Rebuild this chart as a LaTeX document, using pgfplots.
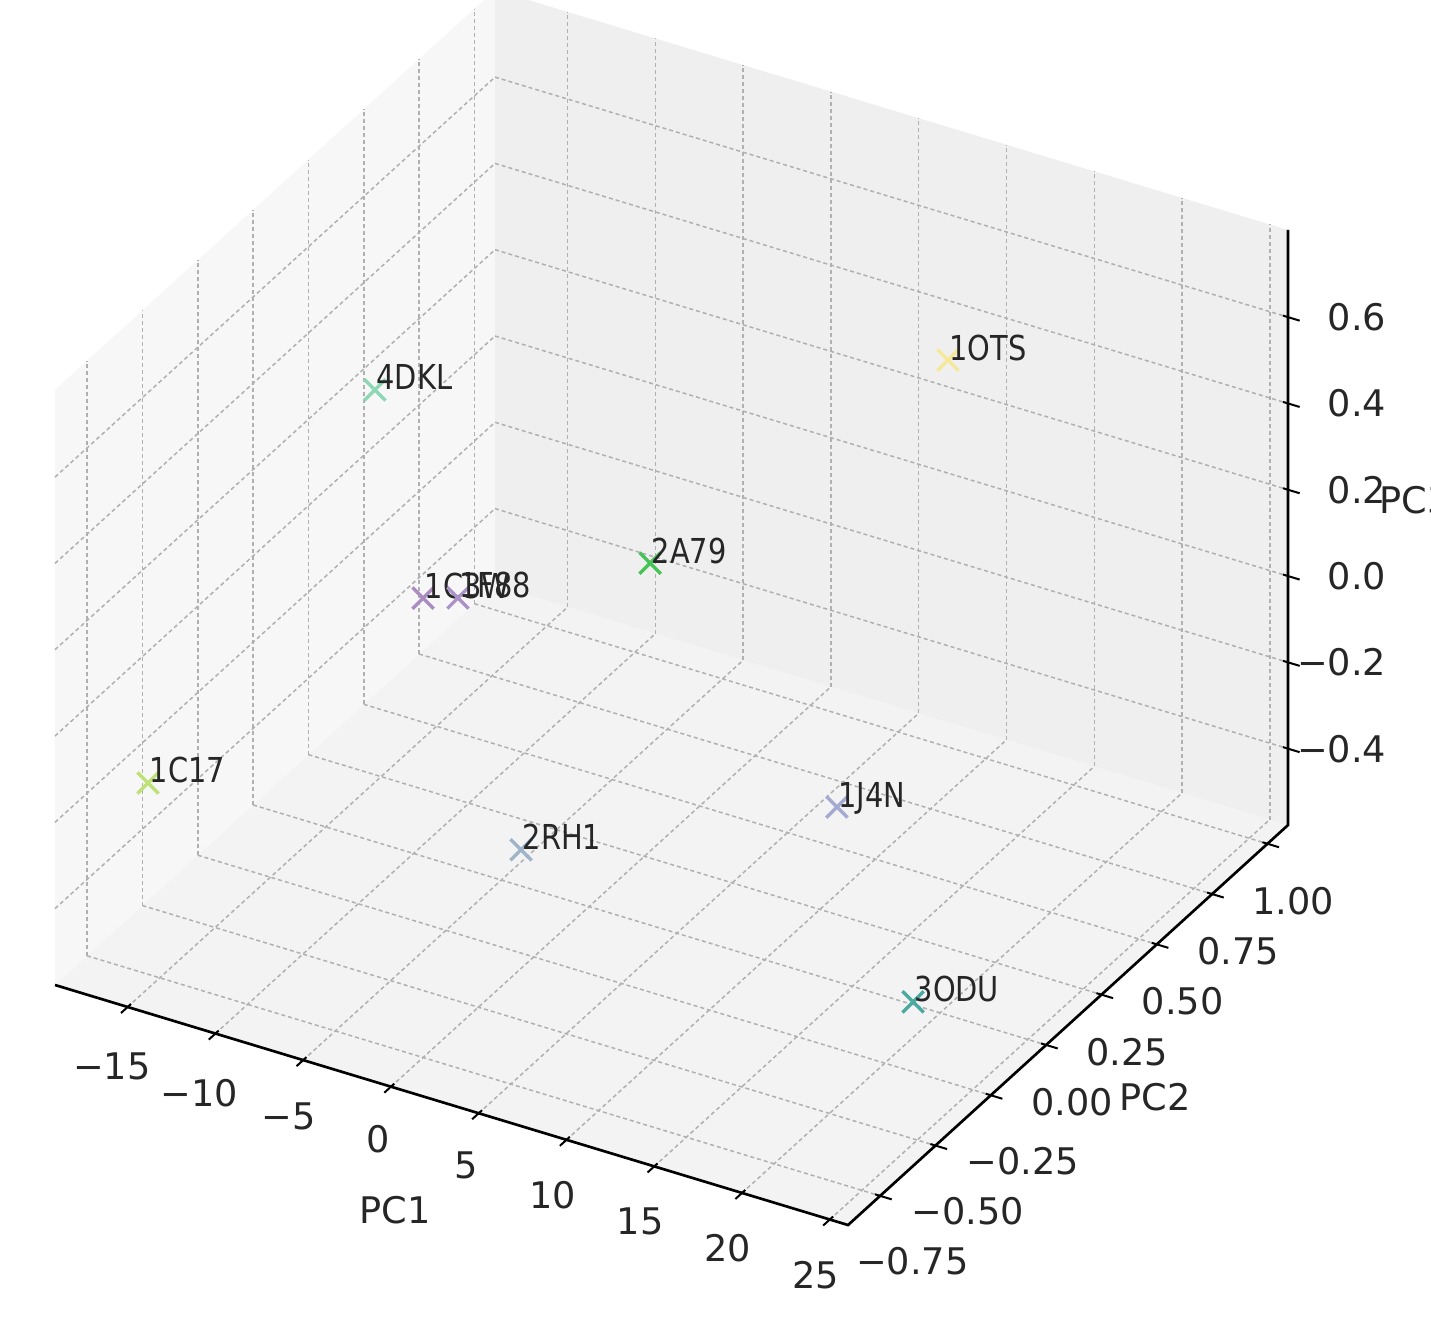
\documentclass[border=0pt]{standalone}
\usepackage{fontspec}
\setmainfont{DejaVu Sans}
\newfontfamily\annfont[FakeStretch=0.84]{DejaVu Sans}
\usepackage{pgfplots}
\pgfplotsset{compat=1.18}

\definecolor{paneleft}{HTML}{F7F7F7}
\definecolor{paneback}{HTML}{EFEFEF}
\definecolor{panefloor}{HTML}{F3F3F3}
\definecolor{gridgray}{HTML}{B0B0B0}
\definecolor{lbltext}{HTML}{262626}
\definecolor{cC3W}{RGB}{170,140,195}
\definecolor{cF88}{RGB}{170,145,200}
\definecolor{cC17}{RGB}{190,225,120}
\definecolor{cDKL}{RGB}{140,215,180}
\definecolor{cOTS}{RGB}{245,232,150}
\definecolor{cA79}{RGB}{70,195,85}
\definecolor{cRH1}{RGB}{160,180,200}
\definecolor{cJ4N}{RGB}{165,170,210}
\definecolor{cODU}{RGB}{75,170,160}

\pgfplotsset{
  pt/.style={only marks, mark=x, mark size=4.5pt, line width=1pt, color=#1,
    nodes near coords, point meta=explicit symbolic,
    nodes near coords align={anchor=base west},
    every node near coord/.style={anchor=base west, inner sep=0pt,
      text=lbltext, font=\annfont\fontsize{10.3}{12}\selectfont}},
}

\begin{document}
\begin{tikzpicture}
\begin{axis}[
  set layers=standard,
  x={(5.266pt,-1.594pt)}, y={(66.40pt,60.36pt)}, z={(0pt,129.45pt)},
  xmin=-19.14, xmax=26.04, ymin=-0.895, ymax=1.093, zmin=-0.577, zmax=0.802,
  xtick={-15,-10,-5,0,5,10,15,20,25},
  xticklabels={−15,−10,−5,0,5,10,15,20,25},
  ytick={-0.75,-0.5,-0.25,0,0.25,0.5,0.75,1},
  yticklabels={−0.75,−0.50,−0.25,0.00,0.25,0.50,0.75,1.00},
  ztick={-0.4,-0.2,0,0.2,0.4,0.6},
  zticklabels={−0.4,−0.2,0.0,0.2,0.4,0.6},
  zticklabel pos=right,
  grid=major,
  major grid style={gridgray, dash pattern=on 1.2pt off 0.9pt, line width=0.45pt},
  axis line style={draw=none},
  major tick length=0pt,
  tick align=center,
  ticklabel style={font=\fontsize{11}{13}\selectfont, text=lbltext},
  xticklabel style={yshift=-7pt},
  yticklabel style={yshift=-4pt, xshift=-2pt},
  zticklabel style={anchor=east, xshift=33pt},
  xlabel={PC1}, ylabel={PC2}, zlabel={PC3},
  every axis x label/.style={at={(axis cs:5.97,-1.350,-0.577)}, anchor=center,
    font=\fontsize{11}{13}\selectfont, text=lbltext},
  every axis y label/.style={at={(axis cs:33.14,-0.071,-0.577)}, anchor=center,
    font=\fontsize{11}{13}\selectfont, text=lbltext},
  every axis z label/.style={at={(axis cs:26.04,1.093,0.176)}, anchor=center,
    xshift=38.1pt, font=\fontsize{11}{13}\selectfont, text=lbltext},
  clip=false,
]
\begin{pgfonlayer}{axis background}
\fill[panefloor] (axis cs:-19.14,-0.895,-0.577) -- (axis cs:26.04,-0.895,-0.577)
  -- (axis cs:26.04,1.093,-0.577) -- (axis cs:-19.14,1.093,-0.577) -- cycle;
\fill[paneleft] (axis cs:-19.14,-0.895,-0.577) -- (axis cs:-19.14,1.093,-0.577)
  -- (axis cs:-19.14,1.093,0.802) -- (axis cs:-19.14,-0.895,0.802) -- cycle;
\fill[paneback] (axis cs:-19.14,1.093,-0.577) -- (axis cs:26.04,1.093,-0.577)
  -- (axis cs:26.04,1.093,0.802) -- (axis cs:-19.14,1.093,0.802) -- cycle;
\end{pgfonlayer}
% the three axis lines with their ticks (matplotlib style)
\draw[black, line width=0.8pt] (axis cs:-19.14,-0.895,-0.577) -- (axis cs:26.04,-0.895,-0.577)
  -- (axis cs:26.04,1.093,-0.577) -- (axis cs:26.04,1.093,0.802);
\pgfplotsinvokeforeach{-15,-10,-5,0,5,10,15,20,25}{
  \draw[black, line width=0.6pt] (axis cs:#1,-0.925,-0.577) -- (axis cs:#1,-0.88,-0.577);}
\pgfplotsinvokeforeach{-0.75,-0.5,-0.25,0,0.25,0.5,0.75,1}{
  \draw[black, line width=0.6pt] (axis cs:25.75,#1,-0.577) -- (axis cs:26.7,#1,-0.577);}
\pgfplotsinvokeforeach{-0.4,-0.2,0,0.2,0.4,0.6}{
  \draw[black, line width=0.6pt] (axis cs:25.75,1.093,#1) -- (axis cs:26.7,1.093,#1);}
\coordinate (O) at (axis cs:-19.14,-0.895,-0.577);

\addplot3[pt=cC17] coordinates {(-17.56,-0.6,-0.227) [1C17]};
\addplot3[pt=cDKL] coordinates {(-14.72,0.2,0.346) [4DKL]};
\addplot3[pt=cC3W] coordinates {(-13.24,0.3,-0.165) [1C3W]};
\addplot3[pt=cF88] coordinates {(-11.25,0.3,-0.140) [1F88]};
\addplot3[pt=cA79] coordinates {(6.00,-0.2,0.386) [2A79]};
\addplot3[pt=cOTS] coordinates {(10.36,0.8,0.444) [1OTS]};
\addplot3[pt=cRH1] coordinates {(4.95,-0.7,-0.058) [2RH1]};
\addplot3[pt=cJ4N] coordinates {(9.08,0.4,-0.421) [1J4N]};
\addplot3[pt=cODU] coordinates {(22.24,-0.3,-0.384) [3ODU]};
\end{axis}
\pgfresetboundingbox
\path ([shift={(-16.5pt,295.5pt)}]O) rectangle ([shift={(412.8pt,-106.2pt)}]O);
\end{tikzpicture}
\end{document}
